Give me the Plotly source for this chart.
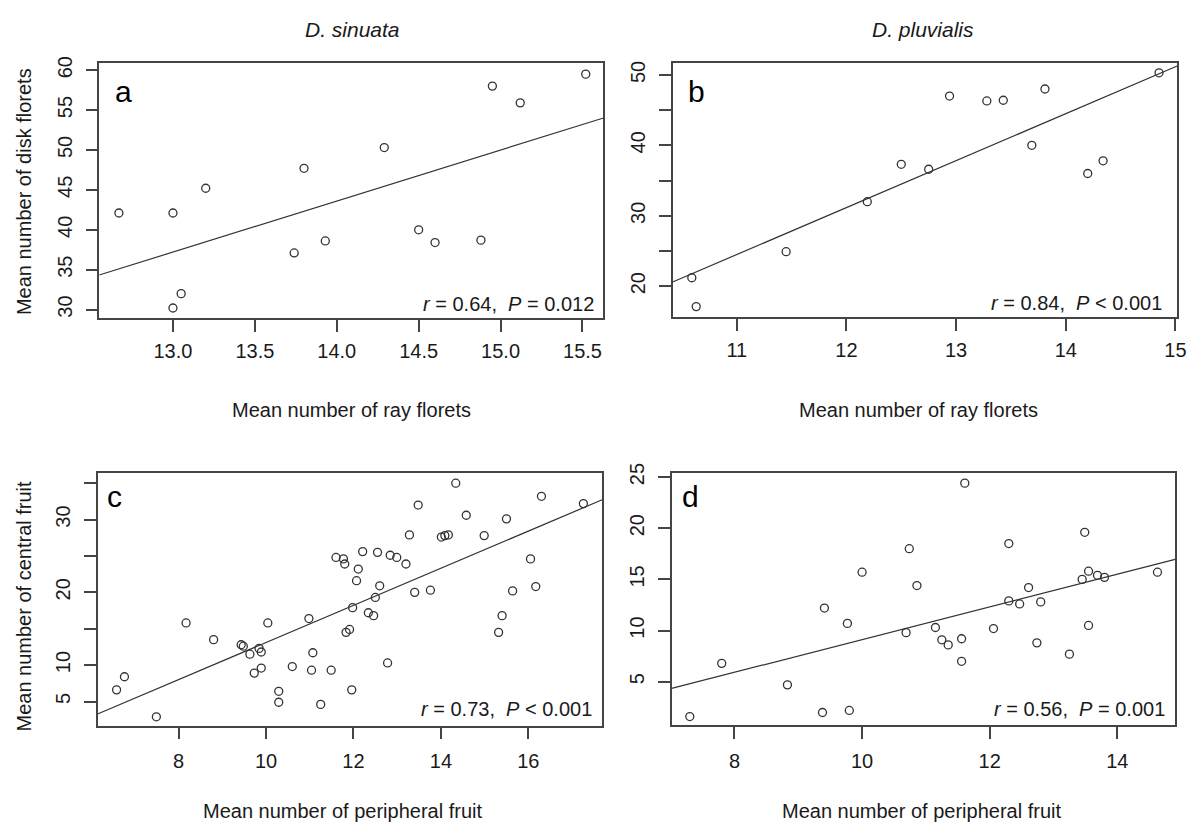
import plotly.graph_objects as go

W, H = 1201, 826
FONT = "Arial, Liberation Sans, sans-serif"
INK = "#333333"
TXT = "#1a1a1a"

# ---------------- data ----------------
# (a) D. sinuata: ray florets vs disk florets
a_ray = [12.67, 13.00, 13.20, 13.00, 13.05, 13.74, 13.80, 13.93, 14.29, 14.50,
         14.60, 14.88, 14.95, 15.12, 15.52]
a_disk = [42.1, 42.1, 45.2, 30.2, 32.0, 37.1, 47.7, 38.6, 50.3, 40.0,
          38.4, 38.7, 58.0, 55.9, 59.5]
a_fit = [-45.86, 6.39]  # intercept, slope

# (b) D. pluvialis: ray florets vs disk florets
b_ray = [10.59, 10.63, 11.45, 12.19, 12.50, 12.75, 12.94, 13.28, 13.43, 13.69,
         13.81, 14.20, 14.34, 14.85]
b_disk = [21.2, 17.1, 24.9, 32.0, 37.3, 36.6, 47.0, 46.3, 46.4, 40.0,
          48.0, 36.0, 37.8, 50.3]
b_fit = [-48.82, 6.665]

# (c) D. sinuata: peripheral vs central fruit
c_per = [6.58, 6.76, 7.49, 8.17, 8.80, 9.43, 9.48, 9.63, 9.84, 9.89,
         9.89, 9.73, 10.04, 10.29, 10.29, 10.60, 10.98, 11.07, 11.04, 11.25,
         11.49, 11.60, 11.77, 11.80, 11.83, 11.91, 11.96, 11.98, 12.07, 12.11,
         12.21, 12.34, 12.46, 12.50, 12.55, 12.60, 12.78, 12.84, 12.99, 13.20,
         13.28, 13.40, 13.48, 13.76, 14.01, 14.09, 14.17, 14.34, 14.58, 14.99,
         15.32, 15.40, 15.50, 15.64, 16.05, 16.17, 16.30, 17.26]
c_cen = [6.6, 8.4, 2.9, 15.8, 13.5, 12.8, 12.6, 11.5, 12.3, 11.8,
         9.6, 8.9, 15.8, 6.4, 4.9, 9.8, 16.4, 11.7, 9.3, 4.6,
         9.3, 24.8, 24.6, 23.9, 14.5, 14.9, 6.6, 17.9, 21.6, 23.2,
         25.6, 17.2, 16.8, 19.3, 25.5, 20.9, 10.3, 25.1, 24.8, 23.9,
         27.9, 20.0, 32.0, 20.3, 27.6, 27.8, 27.9, 35.0, 30.6, 27.8,
         14.5, 16.8, 30.1, 20.2, 24.6, 20.8, 33.2, 32.2]
c_fit = [-12.40, 2.551]

# (d) D. pluvialis: peripheral vs central fruit
d_per = [7.30, 7.80, 8.83, 9.38, 9.41, 9.77, 9.80, 10.00, 10.69, 10.74,
         10.86, 11.15, 11.25, 11.35, 11.56, 11.56, 11.61, 12.06, 12.30, 12.30,
         12.47, 12.61, 12.74, 12.80, 13.25, 13.45, 13.49, 13.55, 13.55, 13.69,
         13.80, 14.63]
d_cen = [1.6, 6.8, 4.7, 2.0, 12.2, 10.7, 2.2, 15.7, 9.8, 18.0,
         14.4, 10.3, 9.1, 8.6, 9.2, 7.0, 24.4, 10.2, 18.5, 12.9,
         12.6, 14.2, 8.8, 12.8, 7.7, 15.0, 19.6, 15.8, 10.5, 15.4,
         15.2, 15.7]
d_fit = [-6.86, 1.598]

stats = ["<i>r</i> = 0.64,  <i>P</i> = 0.012",
         "<i>r</i> = 0.84,  <i>P</i> &lt; 0.001",
         "<i>r</i> = 0.73,  <i>P</i> &lt; 0.001",
         "<i>r</i> = 0.56,  <i>P</i> = 0.001"]
letters = ["a", "b", "c", "d"]
species = ["D. sinuata", "D. pluvialis"]
xtitles = ["Mean number of ray florets", "Mean number of ray florets",
           "Mean number of peripheral fruit", "Mean number of peripheral fruit"]
ytitles = ["Mean number of disk florets", "Mean number of central fruit"]

# ---------------- layout geometry (pixels) ----------------
boxes = [  # left, right, top, bottom
    (100.0, 608.0, 54.0, 312.0),
    (677.7, 1186.0, 54.0, 311.0),
    (98.3, 606.7, 469.0, 724.5),
    (676.7, 1184.0, 469.0, 724.0),
]
xranges = [[12.55, 15.628], [10.415, 15.015], [6.145, 17.689], [7.015, 14.907]]
yranges = [[28.92, 60.85], [15.59, 51.64], [1.67, 36.36], [0.755, 25.36]]

xticks = [dict(vals=[13.0, 13.5, 14.0, 14.5, 15.0, 15.5],
               text=["13.0", "13.5", "14.0", "14.5", "15.0", "15.5"]),
          dict(vals=[11, 12, 13, 14, 15], text=["11", "12", "13", "14", "15"]),
          dict(vals=[8, 10, 12, 14, 16], text=["8", "10", "12", "14", "16"]),
          dict(vals=[8, 10, 12, 14], text=["8", "10", "12", "14"])]
yticks = [dict(vals=[30, 35, 40, 45, 50, 55, 60],
               text=["30", "35", "40", "45", "50", "55", "60"]),
          dict(vals=[20, 25, 30, 35, 40, 45, 50],
               text=["20", "", "30", "", "40", "", "50"]),
          dict(vals=[5, 10, 15, 20, 25, 30, 35],
               text=["5", "10", "", "20", "", "30", ""]),
          dict(vals=[5, 10, 15, 20, 25], text=["5", "10", "15", "20", "25"])]


def px(x):
    return x / W


def py(y):
    return 1 - y / H


xs = [a_ray, b_ray, c_per, d_per]
ys = [a_disk, b_disk, c_cen, d_cen]
fits = [a_fit, b_fit, c_fit, d_fit]

fig = go.Figure()
layout = dict(width=W, height=H, margin=dict(l=0, r=0, t=0, b=0),
              paper_bgcolor="white", plot_bgcolor="white", showlegend=False,
              font=dict(family=FONT, color=TXT))
annotations = []

for i in range(4):
    sfx = "" if i == 0 else str(i + 1)
    xa, ya = "x" + sfx, "y" + sfx
    L, R, T, B = boxes[i]
    # scatter
    fig.add_trace(go.Scatter(x=xs[i], y=ys[i], mode="markers", xaxis=xa, yaxis=ya,
                             marker=dict(symbol="circle-open", size=8, color=INK,
                                         line=dict(width=1.3, color=INK)),
                             hoverinfo="skip"))
    # regression line across axis range
    b0, b1 = fits[i]
    lx = xranges[i]
    fig.add_trace(go.Scatter(x=lx, y=[b0 + b1 * v for v in lx], mode="lines",
                             xaxis=xa, yaxis=ya, line=dict(color=INK, width=1.2),
                             hoverinfo="skip", cliponaxis=True))
    common = dict(showline=True, mirror=True, linecolor="#444", linewidth=1.5,
                  ticks="outside", ticklen=12, tickwidth=1.5, tickcolor="#444",
                  showgrid=False, zeroline=False,
                  tickfont=dict(size=20, color=TXT, family=FONT))
    layout["xaxis" + sfx] = dict(common, domain=[px(L), px(R)], range=xranges[i],
                                 anchor=ya, tickmode="array",
                                 tickvals=xticks[i]["vals"], ticktext=xticks[i]["text"],
                                 ticklabelstandoff=[2, 2, 5, 5][i])
    layout["yaxis" + sfx] = dict(common, domain=[py(B), py(T)], range=yranges[i],
                                 anchor=xa, tickmode="array",
                                 tickvals=yticks[i]["vals"], ticktext=yticks[i]["text"],
                                 tickangle=-90, ticklabelstandoff=6)
    # panel letter
    lx_pos = [114, 691.5, 106, 685][i]
    ly_pos = [83, 82.3, 492.6, 492.6][i]
    annotations.append(dict(text=letters[i], x=px(lx_pos), y=py(ly_pos), xref="paper",
                            yref="paper", xanchor="left", yanchor="middle",
                            showarrow=False, font=dict(size=30, color="black", family=FONT)))
    # stats
    sx = [600, 1173, 598, 1176][i]
    sy = [298, 296.4, 708, 708][i]
    annotations.append(dict(text=stats[i], x=px(sx), y=py(sy), xref="paper",
                            yref="paper", xanchor="right", yanchor="middle",
                            showarrow=False, font=dict(size=20, color=TXT, family=FONT)))
    # x title
    tx = [354, 925, 345, 928][i]
    ty = [405, 405, 811, 811][i]
    annotations.append(dict(text=xtitles[i], x=px(tx), y=py(ty), xref="paper",
                            yref="paper", xanchor="center", yanchor="middle",
                            showarrow=False, font=dict(size=20, color=TXT, family=FONT)))

for j, (yx, yy) in enumerate([(24, 183.5), (24, 603)]):
    annotations.append(dict(text=ytitles[j], x=px(yx), y=py(yy), xref="paper",
                            yref="paper", xanchor="center", yanchor="middle",
                            textangle=-90, showarrow=False,
                            font=dict(size=20, color=TXT, family=FONT)))

for j, cx in enumerate([355, 930]):
    annotations.append(dict(text="<i>" + species[j] + "</i>", x=px(cx), y=py(20),
                            xref="paper", yref="paper", xanchor="center",
                            yanchor="middle", showarrow=False,
                            font=dict(size=21, color=TXT, family=FONT)))

layout["annotations"] = annotations
fig.update_layout(**layout)
fig.write_html("out.html")
